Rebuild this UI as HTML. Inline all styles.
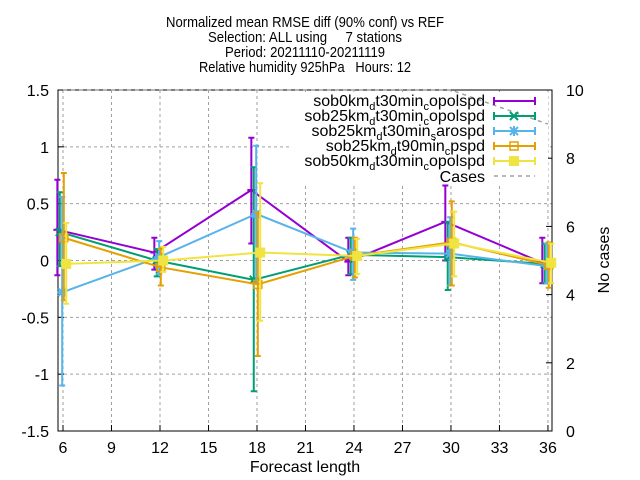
<!DOCTYPE html>
<html><head><meta charset="utf-8"><style>
html,body{margin:0;padding:0;background:#fff}
svg{display:block;font-family:"Liberation Sans",sans-serif}
</style></head><body>
<svg id="chart" width="640" height="480" xmlns="http://www.w3.org/2000/svg">
<g font-size="15" text-anchor="middle" fill="#000">
<text x="305" y="27" textLength="278" lengthAdjust="spacingAndGlyphs">Normalized mean RMSE diff (90% conf) vs REF</text>
<text x="305" y="42" textLength="194" lengthAdjust="spacingAndGlyphs" xml:space="preserve">Selection: ALL using     7 stations</text>
<text x="305" y="57" textLength="160" lengthAdjust="spacingAndGlyphs">Period: 20211110-20211119</text>
<text x="305" y="72" textLength="212" lengthAdjust="spacingAndGlyphs" xml:space="preserve">Relative humidity 925hPa   Hours: 12</text>
</g>
<g id="grid"></g>
<g id="axes"></g>
<g id="legend"></g>
<g id="series"></g>
<g id="legend2"></g>
</svg>
<script>
const hours = [6, 12, 18, 24, 30, 36];
const xTicks = [6, 9, 12, 15, 18, 21, 24, 27, 30, 33, 36];
const yTicks = [-1.5, -1, -0.5, 0, 0.5, 1, 1.5];
const y2Ticks = [0, 2, 4, 6, 8, 10];
const colors = ["#9400d3","#009e73","#56b4e9","#e69f00","#f0e442"];
const offsets = [-0.35, -0.2, -0.05, 0.05, 0.2];
const s0 = [0.27, 0.07, 0.62, -0.01, 0.34, -0.02];
const s0lo = [-0.13, -0.08, 0.15, -0.13, 0.0, -0.2];
const s0hi = [0.71, 0.2, 1.08, 0.2, 0.66, 0.2];
const s1 = [0.25, 0.0, -0.17, 0.05, 0.03, -0.03];
const s1lo = [-0.05, -0.14, -1.15, -0.12, -0.26, -0.2];
const s1hi = [0.6, 0.1, 0.82, 0.2, 0.34, 0.15];
const s2 = [-0.28, 0.03, 0.41, 0.07, 0.06, -0.05];
const s2lo = [-1.1, -0.12, -0.2, -0.17, -0.22, -0.2];
const s2hi = [0.56, 0.17, 1.01, 0.28, 0.38, 0.15];
const s3 = [0.2, -0.06, -0.21, 0.04, 0.16, -0.04];
const s3lo = [-0.35, -0.22, -0.84, -0.15, -0.22, -0.24];
const s3hi = [0.77, 0.1, 0.42, 0.2, 0.52, 0.16];
const s4 = [-0.03, 0.0, 0.07, 0.04, 0.15, -0.02];
const s4lo = [-0.38, -0.1, -0.53, -0.12, -0.14, -0.2];
const s4hi = [0.33, 0.12, 0.68, 0.19, 0.43, 0.15];
const cases = [10, 10, 10, 10, 10, 9];

const L=58,R=552,T=90,B=431;
const X0=5.69,X1=36.25;
function xs(v){return L+(v-X0)/(X1-X0)*(R-L);}
function ys(v){return B-(v+1.5)/3*(B-T);}
function y2s(v){return B-v/10*(B-T);}
const NS="http://www.w3.org/2000/svg";
function mk(tag,attrs,parent){const e=document.createElementNS(NS,tag);for(const k in attrs)e.setAttribute(k,attrs[k]);parent.appendChild(e);return e;}
const grid=document.getElementById('grid'),axes=document.getElementById('axes'),ser=document.getElementById('series'),leg=document.getElementById('legend'),leg2=document.getElementById('legend2');

xTicks.forEach(t=>{const x=xs(t);
 const g=mk('line',{x1:x,x2:x,y1:T,y2:B,stroke:'#a0a0a0','stroke-dasharray':'3,3','stroke-width':1},grid);
 
 const tk=mk('line',{x1:x,x2:x,y1:B,y2:B-6,stroke:'#000'},axes);
 
 const tx=mk('text',{x:x,y:B+22,'font-size':16,'text-anchor':'middle'},axes);tx.textContent=t;
 
});
yTicks.forEach(t=>{const y=ys(t);
 const g=mk('line',{x1:L,x2:R,y1:y,y2:y,stroke:'#a0a0a0','stroke-dasharray':'3,3','stroke-width':1},grid);
 
 const tk=mk('line',{x1:L,x2:L+6,y1:y,y2:y,stroke:'#000'},axes);
 
 const tx=mk('text',{x:L-9,y:y+6,'font-size':16,'text-anchor':'end'},axes);tx.textContent=t;
 
});
y2Ticks.forEach(t=>{const y=y2s(t);
 const tk=mk('line',{x1:R,x2:R-6,y1:y,y2:y,stroke:'#000'},axes);
 
 const tx=mk('text',{x:R+14,y:y+6,'font-size':16},axes);tx.textContent=t;
 
});
const xt=mk('text',{x:305,y:472,'font-size':16,'text-anchor':'middle'},axes);xt.textContent='Forecast length';

const yt=mk('text',{x:0,y:0,'font-size':16,'text-anchor':'middle',transform:'translate(609,260) rotate(-90)'},axes);yt.textContent='No cases';


const lb=mk('rect',{x:290,y:92,width:258,height:92,fill:'#fff'},leg);

const fr=mk('rect',{x:L,y:T,width:R-L,height:B-T,fill:'none',stroke:'#000'},leg);


const cp=mk('polyline',{points:hours.map((h,i)=>xs(h)+','+y2s(cases[i])).join(' '),fill:'none',stroke:'#a0a0a0','stroke-width':1.5,'stroke-dasharray':'4,4'},ser);


const vals=[s0,s1,s2,s3,s4],los=[s0lo,s1lo,s2lo,s3lo,s4lo],his=[s0hi,s1hi,s2hi,s3hi,s4hi];
function marker(k,x,y,c,g){
 let m;
 if(k==0){m=mk('line',{x1:x-4,x2:x+4,y1:y,y2:y,stroke:c,'stroke-width':2},g);}
 else if(k==1){m=mk('path',{d:`M${x-4},${y-4}L${x+4},${y+4}M${x-4},${y+4}L${x+4},${y-4}`,stroke:c,'stroke-width':2},g);}
 else if(k==2){m=mk('path',{d:`M${x-4},${y-4}L${x+4},${y+4}M${x-4},${y+4}L${x+4},${y-4}M${x-5},${y}L${x+5},${y}M${x},${y-5}L${x},${y+5}`,stroke:c,'stroke-width':2},g);}
 else if(k==3){m=mk('rect',{x:x-4,y:y-4,width:8,height:8,fill:'none',stroke:c,'stroke-width':1.5},g);}
 else {m=mk('rect',{x:x-5,y:y-5,width:10,height:10,fill:c},g);}
 
 
}
vals.forEach((v,k)=>{
 const c=colors[k];
 const g=mk('g',{},ser);
 
 const pl=mk('polyline',{points:hours.map((h,i)=>xs(h+offsets[k])+','+ys(v[i])).join(' '),fill:'none',stroke:c,'stroke-width':2},g);
 
 hours.forEach((h,i)=>{
  const x=xs(h+offsets[k]),y1=ys(los[k][i]),y2=ys(his[k][i]);
  const e=mk('path',{d:`M${x},${y1}L${x},${y2}M${x-3},${y1}L${x+3},${y1}M${x-3},${y2}L${x+3},${y2}`,stroke:c,'stroke-width':2,fill:'none'},g);
  
  marker(k,x,ys(v[i]),c,g);
 });
});

const labels=[["sob0km","d","t30min","c","opolspd"],["sob25km","d","t30min","c","opolspd"],["sob25km","d","t30min","s","arospd"],["sob25km","d","t90min","c","pspd"],["sob50km","d","t30min","c","opolspd"]];
labels.forEach((p,k)=>{
 const y=101+k*15,c=colors[k];
 const g=mk('g',{},leg2);
 
 const t=mk('text',{x:485,y:y+5,'font-size':16,'text-anchor':'end'},g);
 t.innerHTML=`${p[0]}<tspan font-size="11" dy="4">${p[1]}</tspan><tspan dy="-4">${p[2]}</tspan><tspan font-size="11" dy="4">${p[3]}</tspan><tspan dy="-4">${p[4]}</tspan>`;
 const l=mk('path',{d:`M494,${y}L535,${y}M494,${y-4}L494,${y+4}M535,${y-4}L535,${y+4}`,stroke:c,'stroke-width':2},g);
 
 marker(k,514,y,c,g);
});
const cg=mk('g',{},leg2);

const ct=mk('text',{x:485,y:182,'font-size':16,'text-anchor':'end'},cg);ct.textContent='Cases';
const cl=mk('line',{x1:494,x2:535,y1:176,y2:176,stroke:'#a0a0a0','stroke-width':1.5,'stroke-dasharray':'4,4'},cg);

</script>
</body></html>
